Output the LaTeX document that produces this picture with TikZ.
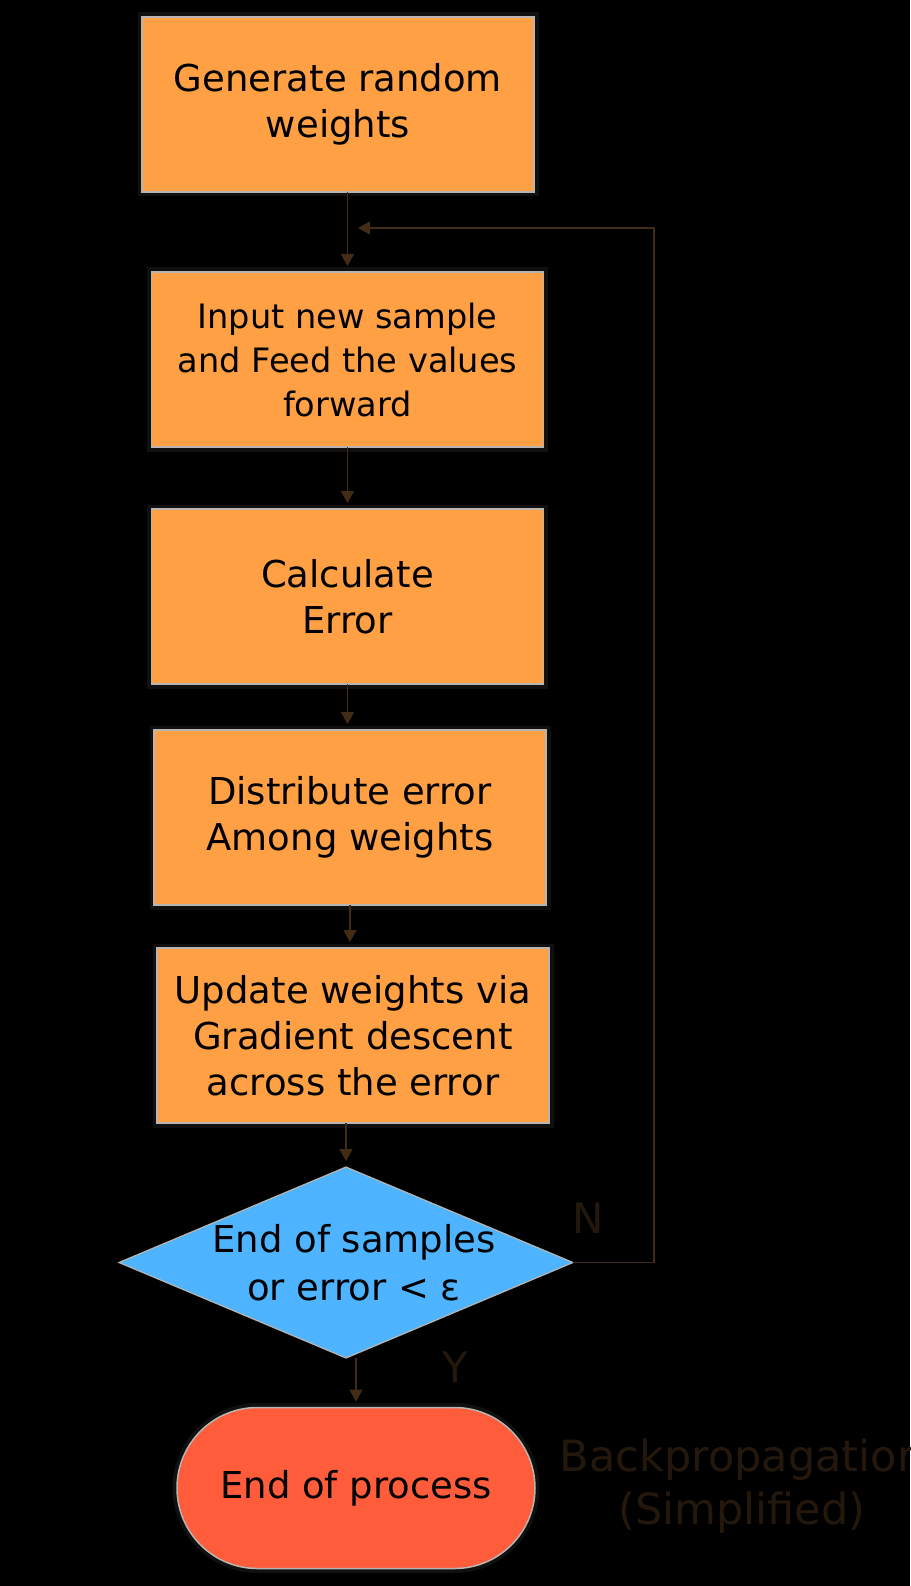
\documentclass[tikz,border=0pt]{standalone}
\usepackage{fontspec}
\setmainfont{DejaVu Sans}
\usepackage{xcolor}
\usetikzlibrary{arrows.meta,positioning,shapes.geometric,shapes.misc}
\definecolor{bpOrange}{RGB}{255,160,68}
\definecolor{bpBlue}{RGB}{79,180,255}
\definecolor{bpRed}{RGB}{255,92,60}
\definecolor{bpEdge}{RGB}{184,180,176}
\definecolor{bpWire}{RGB}{66,44,22}
\definecolor{bpHalo}{RGB}{16,16,16}
\definecolor{bpFaint}{RGB}{36,24,12}

\begin{document}
\begin{tikzpicture}[x=1pt,y=1pt,>={Triangle[width=13pt,length=12pt]},
  procbox/.style={draw=bpEdge,line width=1.5pt,fill=bpOrange,minimum width=392pt,minimum height=175pt,align=center,inner sep=0pt,outer sep=0pt,font=\fontsize{37}{46}\selectfont,preaction={draw=bpHalo,line width=9pt}},
  decision/.style={diamond,draw=bpEdge,line width=1.2pt,fill=bpBlue,aspect=2.38,minimum width=454pt,minimum height=191pt,inner sep=-30pt,outer sep=0pt,align=center,font=\fontsize{37}{48}\selectfont},
  terminal/.style={rounded rectangle,draw=bpEdge,line width=1.5pt,fill=bpRed,minimum width=358pt,minimum height=161pt,inner sep=0pt,outer sep=0pt,font=\fontsize{37}{46}\selectfont,preaction={draw=bpHalo,line width=9pt}},
  flow/.style={->,draw=bpWire,line width=1.5pt,shorten >=6pt},
  answer/.style={text=bpFaint,font=\fontsize{42}{48}\selectfont}]
\fill[black] (0,0) rectangle (910,-1586);
\useasboundingbox (0,0) rectangle (910,-1586);
% boxes of the loop
\node[procbox] (weights) at (338,-104.5) {Generate random\\weights};
\node[procbox,font=\fontsize{33.6}{44}\selectfont] (input) at (347.5,-359.5) {Input new sample\\and Feed the values\\forward};
\node[procbox] (error) at (347.5,-596.5) {Calculate\\Error};
\node[procbox] (spread) at (350,-817.5) {Distribute error\\Among weights};
\node[procbox] (update) at (353,-1035.5) {Update weights via\\Gradient descent\\across the error};
\node[decision] (check) at (346,-1262.5) {\hspace*{16pt}End of samples\\\hspace*{16pt}or error < ε};
\node[terminal] (done) at (356,-1488) {End of process};
\node[answer] (no) at (588,-1218) {N};
\node[answer] (yes) at (455,-1367) {Y};
\node[text=bpFaint,align=center,font=\fontsize{43}{53}\selectfont] (title) at (742,-1486) {Backpropagation\\(Simplified)};
\coordinate (loopin) at (358,-228);
\coordinate (loopright) at (654,-228);
\draw[flow] (weights.south -| input.north) -- (input.north);
\draw[flow] (input.south) -- (input.south |- error.north);
\draw[flow] (error.south) -- (error.south |- spread.north);
\draw[flow] (spread.south) -- (spread.south |- update.north);
\draw[flow] (update.south -| check.north) -- (check.north);
\draw[flow] (check.south -| done.north) -- (done.north);
\draw[->,draw=bpWire,line width=1.5pt] (check.east) -| (loopright) -- (loopin);
\end{tikzpicture}
\end{document}
